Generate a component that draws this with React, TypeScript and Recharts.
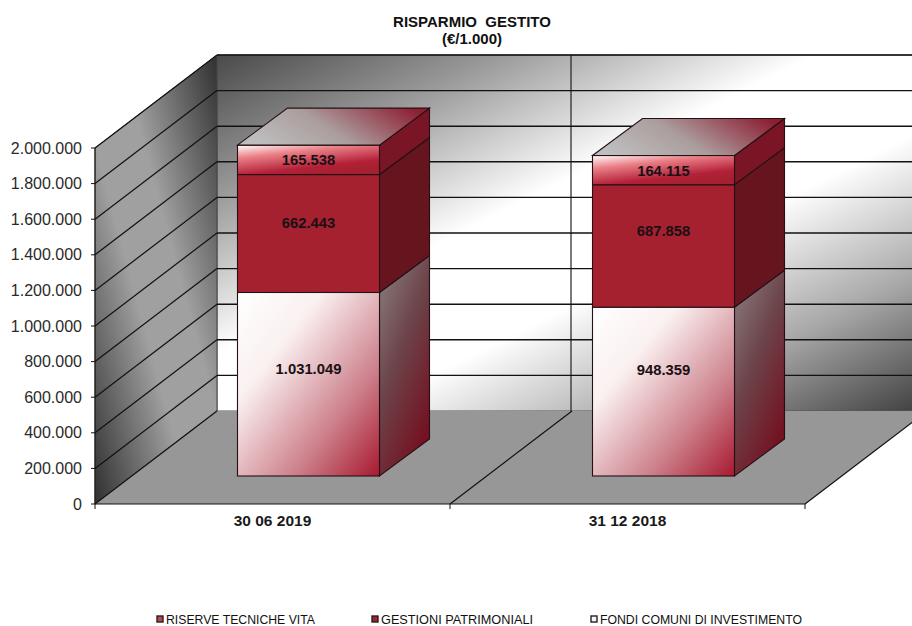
import { Bar, BarChart, CartesianGrid, LabelList, Legend, XAxis, YAxis } from "recharts"

const categories = ["30 06 2019", "31 12 2018"]
const fondi = [1031049, 948359]
const gestioni = [662443, 687858]
const riserve = [165538, 164115]
const yTicks = [0, 200000, 400000, 600000, 800000, 1000000, 1200000, 1400000, 1600000, 1800000, 2000000]
const legendNames = ["RISERVE TECNICHE VITA", "GESTIONI PATRIMONIALI", "FONDI COMUNI DI INVESTIMENTO"]

const data = categories.map((name, i) => ({ name, fondi: fondi[i], gestioni: gestioni[i], riserve: riserve[i] }))

// plot box and the fake 3d offsets
const LEFT = 95
const RIGHT = 805
const TOP = 148
const BOTTOM = 504
const WALL_DX = 122
const WALL_DY = 93
const BAR_DX = 36
const BAR_DY = 28
const DEPTH_DX = 50
const DEPTH_DY = 37
const FONT = "'Liberation Sans', Arial, sans-serif"

const fmt = (v: number) => String(v).replace(/\B(?=(\d{3})+(?!\d))/g, ".")

const gradients = (
  <defs>
    <linearGradient id="backWall" x1="0" y1="0" x2="1" y2="1">
      <stop offset="0" stopColor="#4a4a4a" />
      <stop offset="0.2" stopColor="#9a9a9a" />
      <stop offset="0.42" stopColor="#ffffff" />
      <stop offset="0.6" stopColor="#ffffff" />
      <stop offset="0.8" stopColor="#a8a8a8" />
      <stop offset="1" stopColor="#3c3c3c" />
    </linearGradient>
    <linearGradient id="leftWall" x1="0" y1="1" x2="1" y2="0">
      <stop offset="0" stopColor="#303030" />
      <stop offset="0.4" stopColor="#a0a0a0" />
      <stop offset="0.6" stopColor="#a0a0a0" />
      <stop offset="1" stopColor="#303030" />
    </linearGradient>
    <linearGradient id="fondiFront" x1="0" y1="0" x2="1" y2="1">
      <stop offset="0" stopColor="#ffffff" />
      <stop offset="0.3" stopColor="#faf0f0" />
      <stop offset="0.7" stopColor="#cc7f8a" />
      <stop offset="1" stopColor="#a8192f" />
    </linearGradient>
    <linearGradient id="fondiSide" x1="0" y1="0" x2="0.6" y2="1">
      <stop offset="0" stopColor="#8c8282" />
      <stop offset="0.5" stopColor="#6c444a" />
      <stop offset="1" stopColor="#741222" />
    </linearGradient>
    <linearGradient id="riserveFront" x1="0" y1="0" x2="0.55" y2="1">
      <stop offset="0" stopColor="#ffffff" />
      <stop offset="0.35" stopColor="#ea7f86" />
      <stop offset="0.8" stopColor="#b32038" />
      <stop offset="1" stopColor="#a6212f" />
    </linearGradient>
    <linearGradient id="topFace" x1="0" y1="0.6" x2="1" y2="0.3">
      <stop offset="0" stopColor="#bebebe" />
      <stop offset="0.45" stopColor="#ab9d9d" />
      <stop offset="1" stopColor="#8d1f33" />
    </linearGradient>
  </defs>
)

// walls and floor go in with the first grid line so they sit under everything
const renderWalls = () => (
  <g>
    {gradients}
    <polygon
      points={`${LEFT + WALL_DX},${TOP - WALL_DY} 930,${TOP - WALL_DY} 930,${BOTTOM - WALL_DY} ${LEFT + WALL_DX},${BOTTOM - WALL_DY}`}
      fill="url(#backWall)"
      stroke="#555"
    />
    <polygon
      points={`${LEFT},${TOP} ${LEFT + WALL_DX},${TOP - WALL_DY} ${LEFT + WALL_DX},${BOTTOM - WALL_DY} ${LEFT},${BOTTOM}`}
      fill="url(#leftWall)"
      stroke="#444"
    />
    <polygon
      points={`${LEFT},${BOTTOM} ${RIGHT},${BOTTOM} ${RIGHT + WALL_DX},${BOTTOM - WALL_DY} ${LEFT + WALL_DX},${BOTTOM - WALL_DY}`}
      fill="#979797"
    />
    <line x1={RIGHT} y1={BOTTOM} x2={RIGHT + WALL_DX} y2={BOTTOM - WALL_DY} stroke="#111" strokeWidth={1.2} />
    <line x1={(LEFT + RIGHT) / 2} y1={BOTTOM} x2={(LEFT + RIGHT) / 2 + WALL_DX} y2={BOTTOM - WALL_DY} stroke="#111" strokeWidth={1.2} />
    <line x1={(LEFT + RIGHT) / 2 + WALL_DX - 1} y1={BOTTOM - WALL_DY} x2={(LEFT + RIGHT) / 2 + WALL_DX - 1} y2={TOP - WALL_DY} stroke="#222" strokeWidth={1.2} />
    {[LEFT, (LEFT + RIGHT) / 2, RIGHT].map((x) => (
      <line key={x} x1={x} y1={BOTTOM} x2={x} y2={BOTTOM + 5} stroke="#111" />
    ))}
  </g>
)

const gridLine = (p: any) => {
  const y = p.y1
  const isFloor = Math.abs(y - BOTTOM) < 1
  return (
    <g key={p.key ?? `line-${y}`}>
      {p.index === 0 ? renderWalls() : null}
      <line x1={LEFT} y1={y} x2={LEFT + WALL_DX} y2={y - WALL_DY} stroke="#111" strokeWidth={1.2} />
      {isFloor ? null : <line x1={LEFT + WALL_DX} y1={y - WALL_DY} x2={930} y2={y - WALL_DY} stroke="#111" strokeWidth={1.4} />}
    </g>
  )
}

const faces: Record<string, { front: string; side: string }> = {
  fondi: { front: "url(#fondiFront)", side: "url(#fondiSide)" },
  gestioni: { front: "#a6212f", side: "#66151f" },
  riserve: { front: "url(#riserveFront)", side: "#7a1526" },
}

const makeBox = (kind: string) => (p: any) => {
  const x = p.x + BAR_DX
  const y = p.y - BAR_DY
  const w = p.width
  const h = p.height
  const stroke = "#241015"
  return (
    <g>
      <polygon
        points={`${x + w},${y} ${x + w + DEPTH_DX},${y - DEPTH_DY} ${x + w + DEPTH_DX},${y + h - DEPTH_DY} ${x + w},${y + h}`}
        fill={faces[kind].side}
        stroke={stroke}
        strokeWidth={1.1}
      />
      <rect x={x} y={y} width={w} height={h} fill={faces[kind].front} stroke={stroke} strokeWidth={1.1} />
      {kind === "riserve" ? (
        <polygon
          points={`${x},${y} ${x + DEPTH_DX},${y - DEPTH_DY} ${x + w + DEPTH_DX},${y - DEPTH_DY} ${x + w},${y}`}
          fill="url(#topFace)"
          stroke={stroke}
          strokeWidth={1.1}
        />
      ) : null}
    </g>
  )
}

// the labels are not centred on the faces in the original, each one sits a bit higher
const labelLift: Record<string, number[]> = {
  fondi: [15, 22],
  gestioni: [11, 15],
  riserve: [0, -1],
}

const makeLabel = (kind: string) => (p: any) => (
  <text
    x={p.x + p.width / 2 + BAR_DX}
    y={p.y + p.height / 2 - BAR_DY - labelLift[kind][p.index]}
    textAnchor="middle"
    dominantBaseline="central"
    fontFamily={FONT}
    fontWeight="bold"
    fontSize={14.8}
    fill="#1a1014"
  >
    {fmt(p.value)}
  </text>
)

const legendItems = [
  { x: 157, width: 149, fill: "#c8404e" },
  { x: 372, width: 152, fill: "#a6212f" },
  { x: 591, width: 202, fill: "#f4f4f4" },
]

const renderLegend = () => (
  <svg width={912} height={24} style={{ display: "block" }}>
    {legendNames.map((name, i) => (
      <g key={name}>
        <rect x={legendItems[i].x} y={12} width={6} height={6} fill={legendItems[i].fill} stroke="#222" strokeWidth={1.4} />
        <text
          x={legendItems[i].x + 9}
          y={20}
          fontFamily={FONT}
          fontSize={13.5}
          fill="#111"
          textLength={legendItems[i].width}
          lengthAdjust="spacingAndGlyphs"
        >
          {name}
        </text>
      </g>
    ))}
  </svg>
)

export default function App() {
  return (
    <div style={{ position: "absolute", left: 0, top: 0, width: 912, height: 626, background: "#fff", overflow: "hidden" }}>
      <div
        style={{
          position: "absolute",
          left: 372,
          width: 200,
          top: 13,
          textAlign: "center",
          fontFamily: FONT,
          fontWeight: "bold",
          fontSize: 15,
          lineHeight: "17px",
          color: "#111",
          whiteSpace: "pre",
          zIndex: 2,
        }}
      >
        {"RISPARMIO  GESTITO\n(€/1.000)"}
      </div>
      <BarChart
        width={912}
        height={626}
        data={data}
        barCategoryGap="30%"
        margin={{ top: TOP, right: 912 - RIGHT, bottom: 92, left: 0 }}
      >
        <CartesianGrid horizontal={gridLine} vertical={false} />
        <XAxis
          dataKey="name"
          height={30}
          tickLine={false}
          stroke="#111"
          tickMargin={5}
          tick={{ fontFamily: FONT, fontWeight: "bold", fontSize: 15.5, fill: "#1a1a1a" }}
        />
        <YAxis
          width={LEFT}
          domain={[0, 2000000]}
          ticks={yTicks}
          interval={0}
          tickFormatter={fmt}
          tickSize={4}
          tickMargin={9}
          stroke="#111"
          tick={{ fontFamily: FONT, fontSize: 16, fill: "#2a2a2a" }}
        />
        <Legend
          layout="horizontal"
          verticalAlign="middle"
          content={renderLegend}
          wrapperStyle={{ top: 604, left: 0, width: 912, margin: 0 }}
        />
        <Bar dataKey="fondi" stackId="a" shape={makeBox("fondi")} isAnimationActive={false}>
          <LabelList dataKey="fondi" content={makeLabel("fondi")} />
        </Bar>
        <Bar dataKey="gestioni" stackId="a" shape={makeBox("gestioni")} isAnimationActive={false}>
          <LabelList dataKey="gestioni" content={makeLabel("gestioni")} />
        </Bar>
        <Bar dataKey="riserve" stackId="a" shape={makeBox("riserve")} isAnimationActive={false}>
          <LabelList dataKey="riserve" content={makeLabel("riserve")} />
        </Bar>
      </BarChart>
    </div>
  )
}
